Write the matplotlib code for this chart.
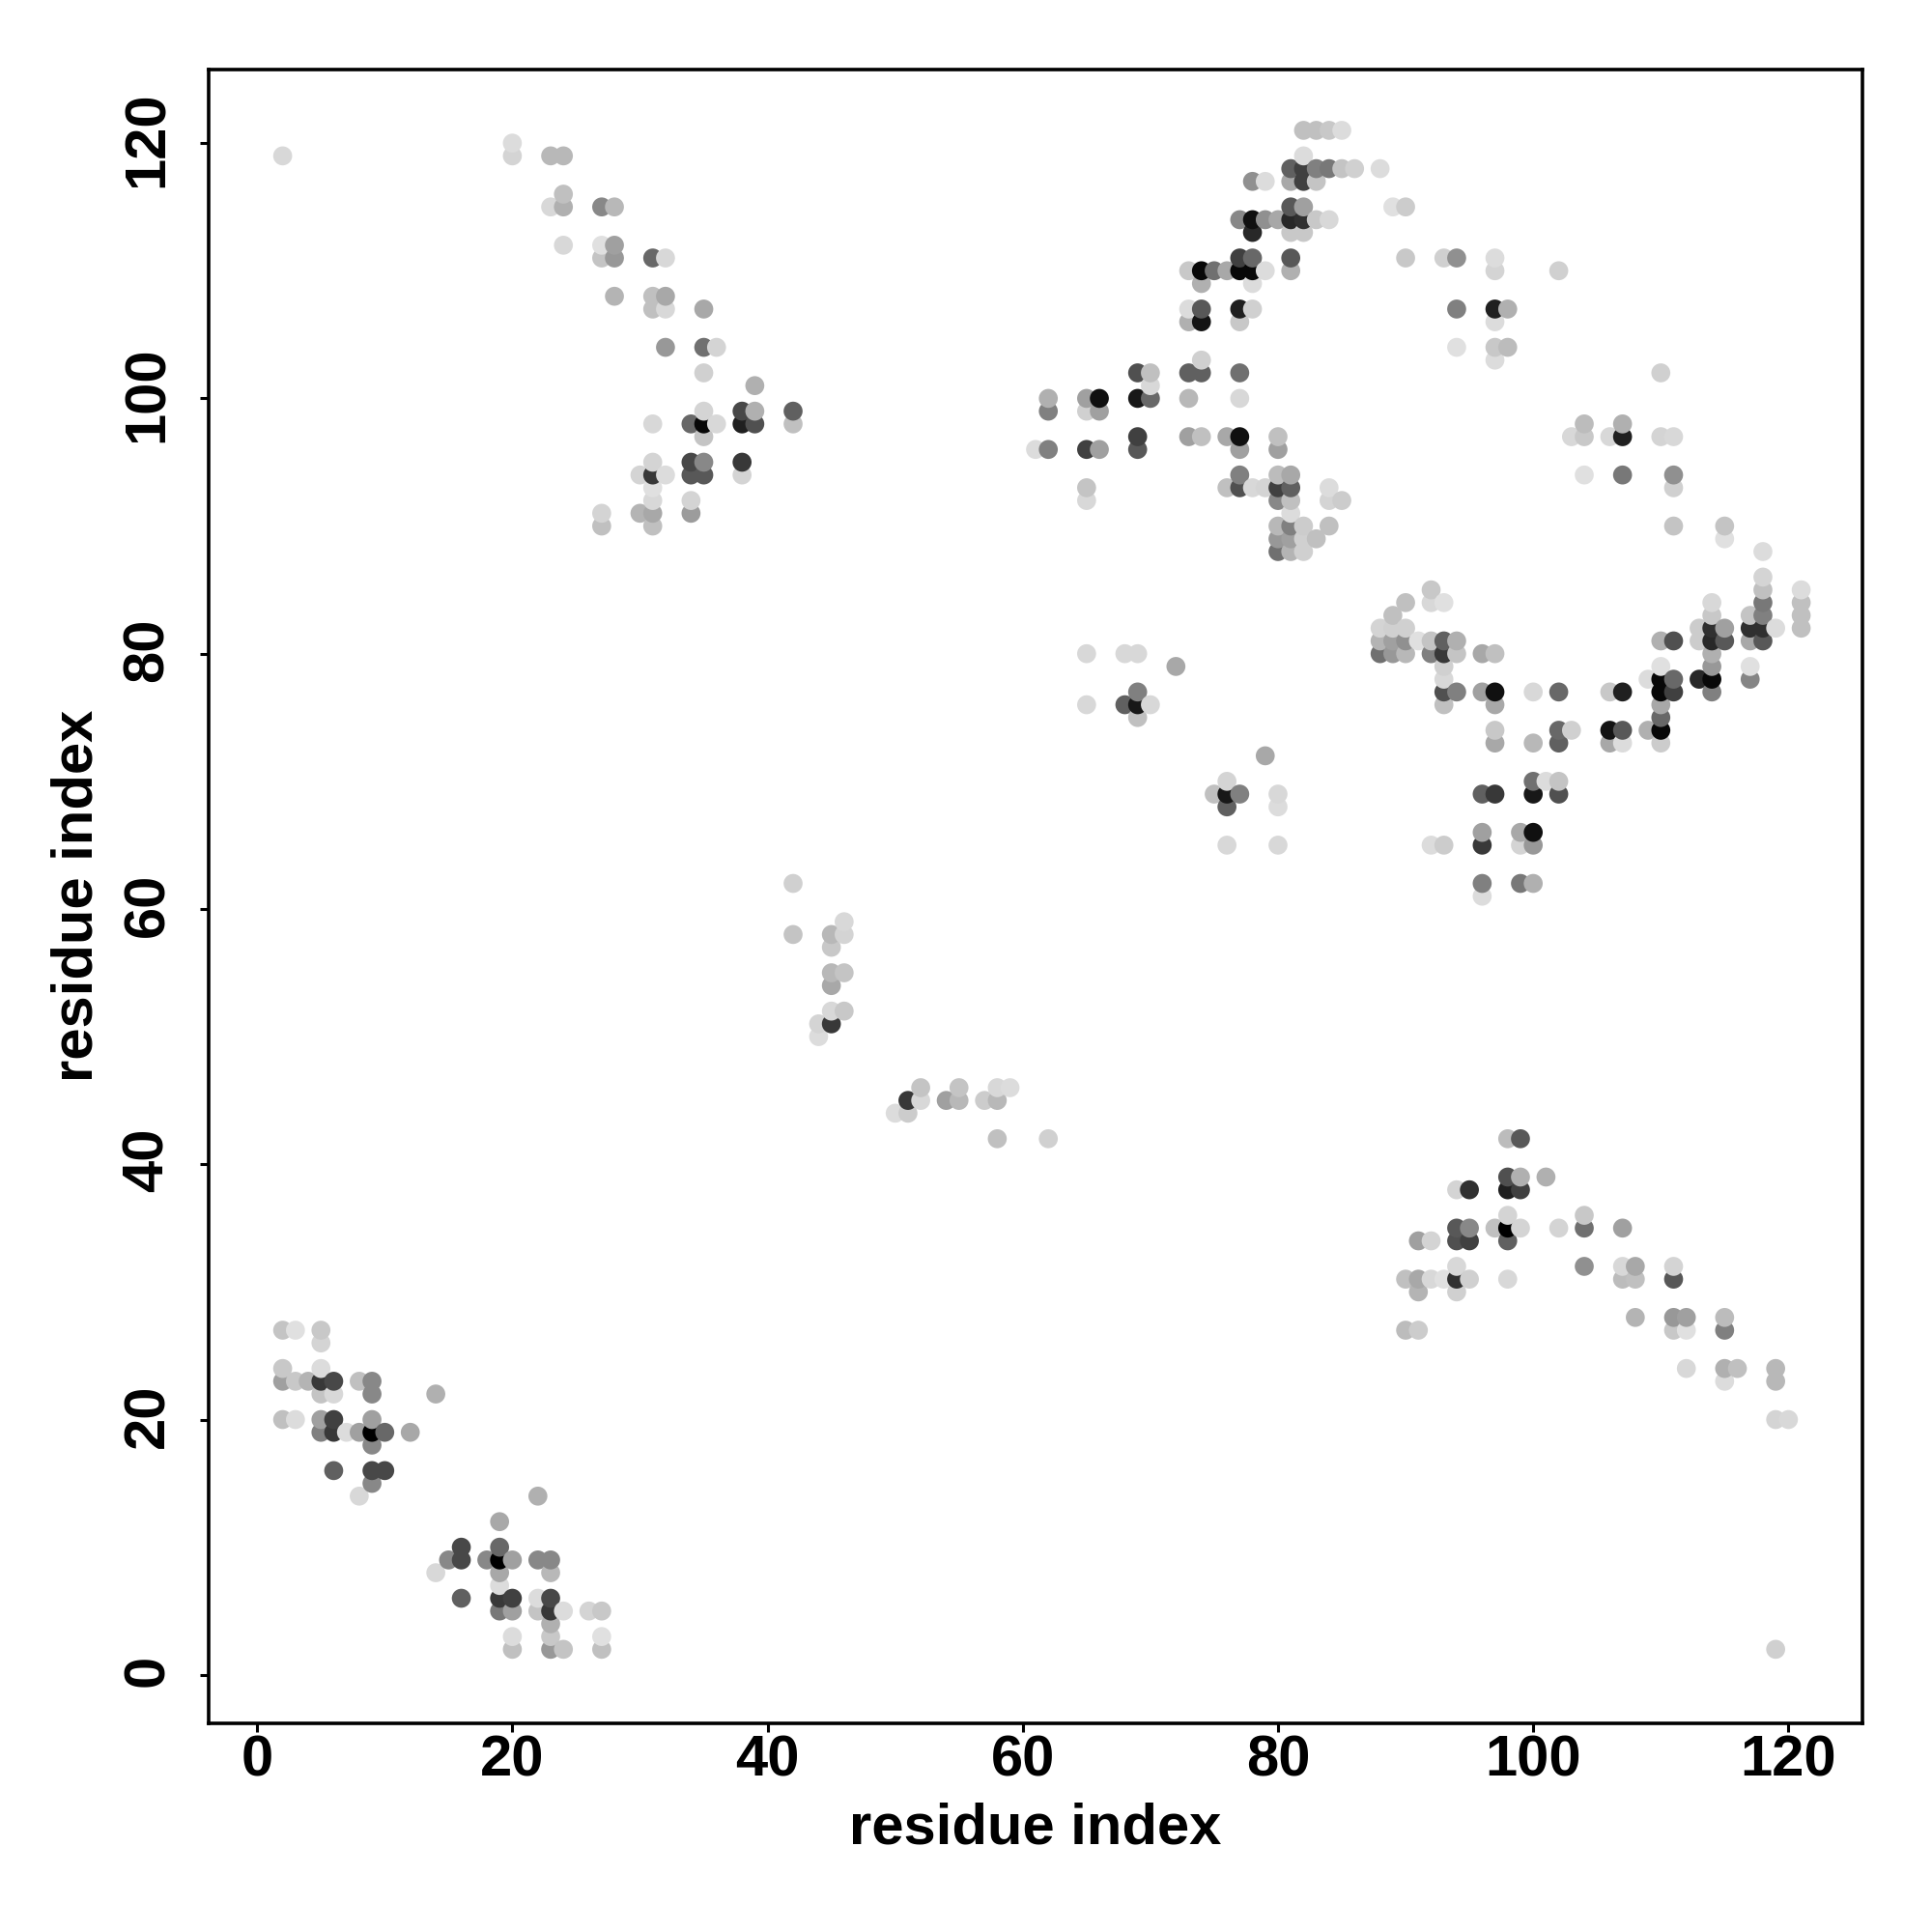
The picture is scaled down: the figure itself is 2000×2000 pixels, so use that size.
import numpy as np
import matplotlib
matplotlib.use('Agg')
import matplotlib.pyplot as plt
from matplotlib.transforms import ScaledTranslation

plt.rcParams['font.family'] = ['Liberation Sans', 'DejaVu Sans']
plt.rcParams['font.weight'] = 'bold'

# contact map, one source line per row of points
contact_x = [
    82, 83, 84, 85,
    20,
    2, 20, 23, 24, 82,
    81, 82, 83, 84, 85, 86, 88,
    78, 79, 81, 82, 83,
    24,
    23, 24, 27, 28, 81, 82, 89, 90,
    77, 78, 79, 80, 81, 82, 83, 84,
    78, 81, 82,
    24, 27, 28,
    27, 28, 31, 32, 77, 78, 81, 90, 93, 94, 97,
    73, 74, 75, 76, 77, 78, 79, 81, 97, 102,
    74, 78,
    28, 31, 32,
    31, 32, 35, 73, 74, 77, 78, 94, 97, 98,
    73, 74, 77, 97,
    32, 35, 36, 94, 97, 98,
    74, 97,
    35, 69, 70, 73, 74, 77, 110,
    39, 70,
    62, 65, 66, 69, 70, 73, 77,
    35, 38, 39, 42, 62, 65, 66,
    31, 34, 35, 36, 38, 39, 42, 104, 107,
    35, 69, 73, 74, 76, 77, 80, 103, 104, 106, 107, 110, 111,
    61, 62, 65, 66, 69, 77, 80,
    31, 34, 35, 38,
    30, 31, 32, 34, 35, 38, 77, 80, 81, 104, 107, 111,
    31, 65, 76, 77, 78, 79, 80, 81, 84, 111,
    31, 34, 65, 80, 81, 84, 85,
    27, 30, 31, 34, 81,
    27, 31, 80, 81, 82, 84, 111, 115,
    80, 81, 82, 83, 115,
    80, 81, 82, 118,
    118,
    92, 118, 121,
    90, 92, 93, 114, 118, 121,
    89, 114, 117, 118, 121,
    88, 89, 90, 113, 114, 115, 117, 118, 119, 121,
    88, 89, 90, 91, 92, 93, 94, 110, 111, 113, 114, 115, 117, 118,
    65, 68, 69, 88, 89, 90, 92, 93, 94, 96, 97, 114,
    72, 93, 110, 114, 117,
    93, 109, 110, 111, 113, 114, 117,
    69, 93, 94, 96, 97, 100, 102, 106, 107, 110, 111, 114,
    65, 68, 69, 70, 93, 97, 110,
    69, 110,
    97, 102, 103, 106, 107, 109, 110,
    97, 100, 102, 106, 107, 110,
    79,
    76, 100, 101, 102,
    75, 76, 77, 80, 96, 97, 100, 102,
    76, 80,
    96, 99, 100,
    76, 80, 92, 93, 96, 99, 100,
    42, 96, 99, 100,
    96,
    46,
    42, 45, 46,
    45,
    45, 46,
    45,
    45, 46,
    44, 45,
    44,
    52, 55, 58, 59,
    51, 52, 54, 55, 57, 58,
    50, 51,
    58, 62, 98, 99,
    98, 99, 101,
    94, 95, 98, 99,
    98, 104,
    94, 95, 97, 98, 99, 102, 104, 107,
    91, 92, 94, 95, 98,
    94, 104, 107, 108, 111,
    90, 91, 92, 93, 94, 95, 98, 107, 108, 111,
    91, 94,
    108, 111, 112, 115,
    2, 3, 5, 90, 91, 111, 112, 115,
    5,
    2, 5, 112, 115, 116, 119,
    2, 3, 4, 5, 6, 8, 9, 115, 119,
    5, 6, 9, 14,
    2, 3, 5, 6, 9, 119, 120,
    5, 6, 7, 8, 9, 10, 12,
    9,
    6, 9, 10,
    9,
    8, 22,
    19,
    16, 19,
    15, 16, 18, 19, 20, 22, 23,
    14, 19, 23,
    19,
    16, 19, 20, 22, 23,
    19, 20, 22, 23, 24, 26, 27,
    23,
    20, 23, 27,
    20, 23, 24, 27, 119,
]

contact_y = [
    121, 121, 121, 121,
    120,
    119, 119, 119, 119, 119,
    118, 118, 118, 118, 118, 118, 118,
    117, 117, 117, 117, 117,
    116,
    115, 115, 115, 115, 115, 115, 115, 115,
    114, 114, 114, 114, 114, 114, 114, 114,
    113, 113, 113,
    112, 112, 112,
    111, 111, 111, 111, 111, 111, 111, 111, 111, 111, 111,
    110, 110, 110, 110, 110, 110, 110, 110, 110, 110,
    109, 109,
    108, 108, 108,
    107, 107, 107, 107, 107, 107, 107, 107, 107, 107,
    106, 106, 106, 106,
    104, 104, 104, 104, 104, 104,
    103, 103,
    102, 102, 102, 102, 102, 102, 102,
    101, 101,
    100, 100, 100, 100, 100, 100, 100,
    99, 99, 99, 99, 99, 99, 99,
    98, 98, 98, 98, 98, 98, 98, 98, 98,
    97, 97, 97, 97, 97, 97, 97, 97, 97, 97, 97, 97, 97,
    96, 96, 96, 96, 96, 96, 96,
    95, 95, 95, 95,
    94, 94, 94, 94, 94, 94, 94, 94, 94, 94, 94, 94,
    93, 93, 93, 93, 93, 93, 93, 93, 93, 93,
    92, 92, 92, 92, 92, 92, 92,
    91, 91, 91, 91, 91,
    90, 90, 90, 90, 90, 90, 90, 90,
    89, 89, 89, 89, 89,
    88, 88, 88, 88,
    86,
    85, 85, 85,
    84, 84, 84, 84, 84, 84,
    83, 83, 83, 83, 83,
    82, 82, 82, 82, 82, 82, 82, 82, 82, 82,
    81, 81, 81, 81, 81, 81, 81, 81, 81, 81, 81, 81, 81, 81,
    80, 80, 80, 80, 80, 80, 80, 80, 80, 80, 80, 80,
    79, 79, 79, 79, 79,
    78, 78, 78, 78, 78, 78, 78,
    77, 77, 77, 77, 77, 77, 77, 77, 77, 77, 77, 77,
    76, 76, 76, 76, 76, 76, 76,
    75, 75,
    74, 74, 74, 74, 74, 74, 74,
    73, 73, 73, 73, 73, 73,
    72,
    70, 70, 70, 70,
    69, 69, 69, 69, 69, 69, 69, 69,
    68, 68,
    66, 66, 66,
    65, 65, 65, 65, 65, 65, 65,
    62, 62, 62, 62,
    61,
    59,
    58, 58, 58,
    57,
    55, 55,
    54,
    52, 52,
    51, 51,
    50,
    46, 46, 46, 46,
    45, 45, 45, 45, 45, 45,
    44, 44,
    42, 42, 42, 42,
    39, 39, 39,
    38, 38, 38, 38,
    36, 36,
    35, 35, 35, 35, 35, 35, 35, 35,
    34, 34, 34, 34, 34,
    32, 32, 32, 32, 32,
    31, 31, 31, 31, 31, 31, 31, 31, 31, 31,
    30, 30,
    28, 28, 28, 28,
    27, 27, 27, 27, 27, 27, 27, 27,
    26,
    24, 24, 24, 24, 24, 24,
    23, 23, 23, 23, 23, 23, 23, 23, 23,
    22, 22, 22, 22,
    20, 20, 20, 20, 20, 20, 20,
    19, 19, 19, 19, 19, 19, 19,
    18,
    16, 16, 16,
    15,
    14, 14,
    12,
    10, 10,
    9, 9, 9, 9, 9, 9, 9,
    8, 8, 8,
    7,
    6, 6, 6, 6, 6,
    5, 5, 5, 5, 5, 5, 5,
    4,
    3, 3, 3,
    2, 2, 2, 2, 2,
]

# grey level of each point, 0x00 black to 0xff white
contact_grey = [
    0xc0, 0xc0, 0xc8, 0xdc,
    0xdc,
    0xd8, 0xd4, 0xb8, 0xb8, 0xdc,
    0x60, 0x40, 0x80, 0x78, 0xc4, 0xd0, 0xdc,
    0x90, 0xdc, 0xa8, 0x40, 0xc4,
    0xc0,
    0xd8, 0xb0, 0x88, 0xb8, 0x58, 0xa0, 0xe0, 0xcc,
    0x88, 0x10, 0x90, 0xa8, 0x28, 0x30, 0xc8, 0xd8,
    0x28, 0xc8, 0xc8,
    0xd8, 0xe0, 0xa0,
    0xc4, 0x98, 0x68, 0xd8, 0x40, 0x68, 0x58, 0xc8, 0xd0, 0x90, 0xdc,
    0xc8, 0x08, 0x70, 0xa8, 0x08, 0x08, 0xdc, 0xb0, 0xd4, 0xd0,
    0xb0, 0xdc,
    0xb4, 0xc0, 0xa8,
    0xc0, 0xd8, 0xa8, 0xdc, 0x58, 0x20, 0xd0, 0x80, 0x20, 0xb0,
    0xb0, 0x14, 0xc8, 0xdc,
    0x98, 0x70, 0xd4, 0xe0, 0xc8, 0xbc,
    0xd0, 0xdc,
    0xd0, 0x50, 0xc0, 0x60, 0x60, 0x70, 0xd0,
    0xb0, 0xd8,
    0xb0, 0xa0, 0x10, 0x18, 0x68, 0xb8, 0xd8,
    0xd4, 0x48, 0xb0, 0x60, 0x80, 0xd0, 0xa0,
    0xd8, 0x68, 0x08, 0xd8, 0x20, 0x50, 0xc0, 0xbc, 0xb0,
    0xc4, 0x40, 0xa0, 0xc0, 0xa8, 0x10, 0xc0, 0xd8, 0xc8, 0xd8, 0x20, 0xd4, 0xd8,
    0xdc, 0x80, 0x40, 0xa0, 0x58, 0xa0, 0xa0,
    0xd4, 0x48, 0x88, 0x38,
    0xd4, 0x38, 0xdc, 0x58, 0x58, 0xd4, 0x80, 0xbc, 0xa8, 0xe0, 0x78, 0x90,
    0xe0, 0xc4, 0xc0, 0x50, 0xd8, 0xd4, 0x40, 0x60, 0xdc, 0xd0,
    0xd8, 0xd4, 0xd8, 0x88, 0xc0, 0xd4, 0xcc,
    0xd4, 0xb4, 0xa8, 0x9c, 0xdc,
    0xc0, 0xc0, 0xb8, 0x80, 0xcc, 0xc0, 0xc4, 0xc4,
    0x98, 0xa0, 0xd0, 0xc0, 0xe0,
    0x70, 0xb4, 0xd0, 0xdc,
    0xd4,
    0xc8, 0xc0, 0xdc,
    0xc0, 0xd8, 0xe0, 0xd8, 0x78, 0xc0,
    0xc0, 0xc8, 0xc4, 0x80, 0xc0,
    0xd4, 0xd0, 0xd0, 0xcc, 0x30, 0xa0, 0x30, 0x30, 0xdc, 0xc0,
    0xb4, 0xa0, 0x90, 0xe0, 0xc4, 0x60, 0xb0, 0xb0, 0x50, 0xcc, 0x28, 0x58, 0xa8, 0x58,
    0xd8, 0xd8, 0xd8, 0x70, 0x98, 0xb8, 0x80, 0x38, 0xc4, 0xa8, 0xc0, 0xb0,
    0xa8, 0xd0, 0xe0, 0x98, 0xe0,
    0xd8, 0xdc, 0x08, 0x68, 0x28, 0x08, 0x85,
    0x80, 0x50, 0x80, 0xa0, 0x10, 0xd8, 0x68, 0xc8, 0x20, 0x08, 0x40, 0x80,
    0xd8, 0x60, 0x18, 0xd8, 0xc0, 0xa8, 0xa8,
    0xc0, 0x68,
    0xc8, 0x68, 0xd0, 0x14, 0x58, 0xb0, 0x08,
    0xa8, 0xb8, 0x60, 0xa8, 0xdc, 0xcc,
    0xa8,
    0xd4, 0x70, 0xdc, 0xc4,
    0xc0, 0x18, 0x80, 0xd8, 0x60, 0x38, 0x18, 0x50,
    0x60, 0xdc,
    0xa0, 0xa8, 0x10,
    0xd8, 0xd8, 0xdc, 0xcc, 0x38, 0xd4, 0x98,
    0xd0, 0x80, 0x78, 0xb0,
    0xdc,
    0xd8,
    0xc4, 0xb8, 0xd4,
    0xc8,
    0xb8, 0xc4,
    0xa8,
    0xd8, 0xc8,
    0xd4, 0x38,
    0xdc,
    0xc4, 0xc4, 0xd8, 0xdc,
    0x38, 0xd8, 0xa0, 0xb8, 0xcc, 0xb8,
    0xdc, 0xcc,
    0xc0, 0xd0, 0xbc, 0x58,
    0x50, 0xb0, 0xb0,
    0xd4, 0x30, 0x20, 0x40,
    0xd4, 0xc8,
    0x58, 0x88, 0xc0, 0x00, 0xd4, 0xd4, 0x70, 0xa0,
    0xa0, 0xd4, 0x50, 0x40, 0x60,
    0xd8, 0x90, 0xd8, 0xa8, 0xd4,
    0xc0, 0xa8, 0xd8, 0xe0, 0x30, 0xd0, 0xd8, 0xbc, 0xc0, 0x58,
    0xb4, 0xd0,
    0xb4, 0x98, 0xa0, 0xbc,
    0xc4, 0xe0, 0xc8, 0xbc, 0xcc, 0xc8, 0xe0, 0x80,
    0xd4,
    0xc8, 0xdc, 0xd8, 0xb0, 0xc0, 0xb8,
    0xa0, 0xc8, 0xb4, 0x38, 0x48, 0xc0, 0x88, 0xdc, 0xb8,
    0xc4, 0xd8, 0x88, 0xb0,
    0xc0, 0xdc, 0xa0, 0x40, 0xa0, 0xd4, 0xd8,
    0x80, 0x38, 0xdc, 0xa0, 0x00, 0x68, 0xa8,
    0x88,
    0x60, 0x48, 0x48,
    0x88,
    0xd8, 0xb0,
    0xa8,
    0x48, 0x68,
    0x88, 0x48, 0x88, 0x00, 0xa0, 0x88, 0x88,
    0xd8, 0xa8, 0xb8,
    0xdc,
    0x60, 0x38, 0x40, 0xdc, 0x48,
    0x78, 0xa0, 0xc4, 0x38, 0xdc, 0xd4, 0xc8,
    0xb0,
    0xdc, 0xc8, 0xe0,
    0xc0, 0x98, 0xc4, 0xc0, 0xd0,
]

tick_values = [0, 20, 40, 60, 80, 100, 120]
axis_label = 'residue index'

x = np.array(contact_x)
y = np.array(contact_y)
grey = np.array(contact_grey) / 255.0
assert len(x) == len(y) == len(grey)

# later columns are painted over earlier ones
order = np.lexsort((y, x))

fig = plt.figure(figsize=(10, 10), dpi=200)
ax = fig.add_axes([216 / 2000, 1 - 1784 / 2000, (1928 - 216) / 2000, (1784 - 71.5) / 2000])
ax.scatter(x[order], y[order], s=50, c=grey[order], cmap='gray', vmin=0, vmax=1,
           linewidths=0, zorder=2)

ax.set_xlim(-3.8, 125.8)
ax.set_ylim(-3.8, 125.8)
ax.set_xticks(tick_values)
ax.set_yticks(tick_values)
ax.tick_params(axis='x', length=3.1, width=1.1, labelsize=21.5, pad=1)
ax.tick_params(axis='y', length=3.1, width=1.1, labelsize=21.5, pad=9.5)
# rotated labels sit a little low otherwise
nudge = ScaledTranslation(0, 0.02, fig.dpi_scale_trans)
for label in ax.get_yticklabels():
    label.set_rotation(90)
    label.set_va('center')
    label.set_transform(label.get_transform() + nudge)
for side in ax.spines.values():
    side.set_linewidth(1.3)

ax.set_xlabel(axis_label, fontsize=21.5, fontweight='bold', labelpad=5.5)
ax.set_ylabel(axis_label, fontsize=21.5, fontweight='bold', labelpad=6.5)

fig.savefig('out.png', dpi=200)
